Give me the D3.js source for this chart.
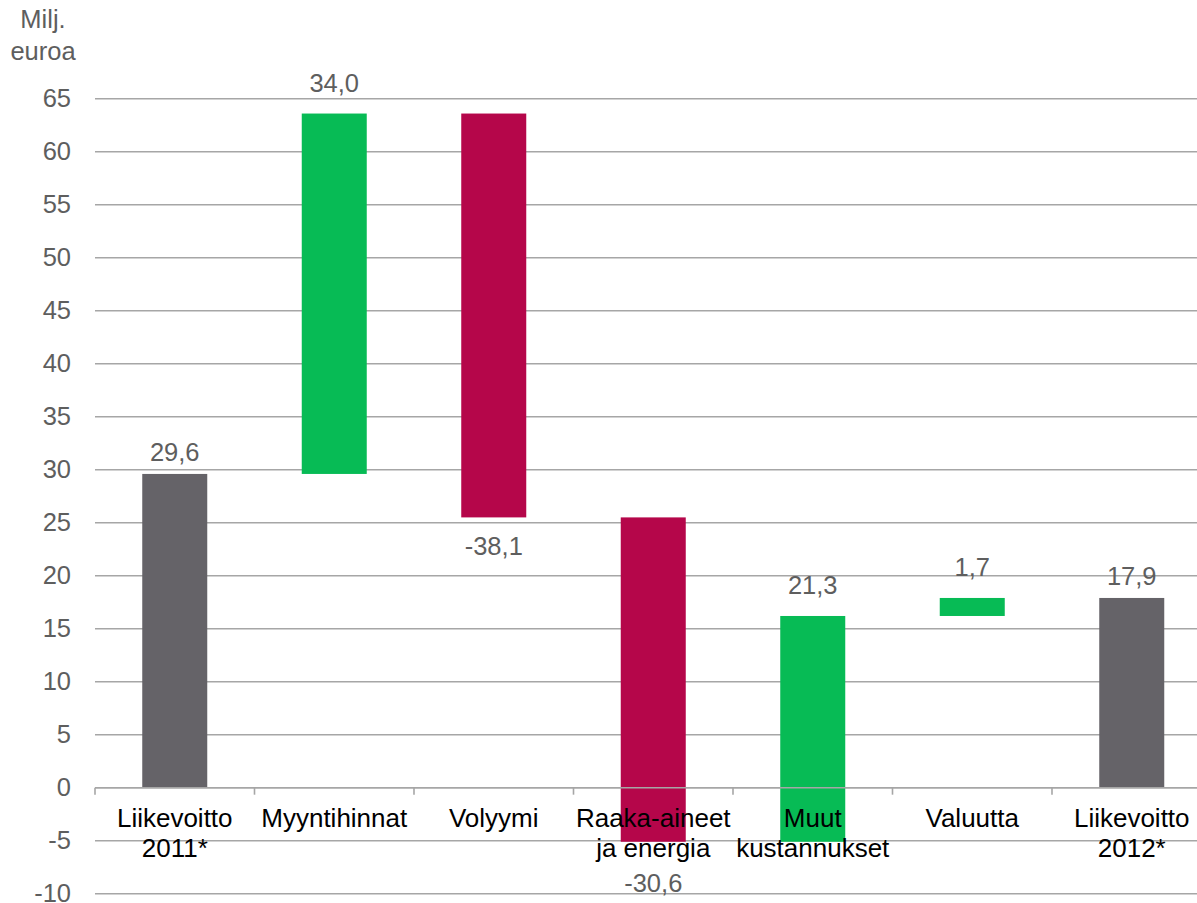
<!DOCTYPE html>
<html>
<head>
<meta charset="utf-8">
<script src="https://cdn.jsdelivr.net/npm/d3@7"></script>
<style>
  html, body { margin: 0; padding: 0; background: #fff; }
  svg { display: block; font-family: "Liberation Sans", Arial, sans-serif; }
</style>
</head>
<body>
<svg id="chart" width="1197" height="903"></svg>
<script>
// Operating profit bridge 2011 -> 2012, million euros
const categories = [
  ["Liikevoitto", "2011*"],
  ["Myyntihinnat"],
  ["Volyymi"],
  ["Raaka-aineet", "ja energia"],
  ["Muut", "kustannukset"],
  ["Valuutta"],
  ["Liikevoitto", "2012*"]
];
const changes = [29.6, 34.0, -38.1, -30.6, 21.3, 1.7, 17.9];
const kinds = ["total", "delta", "delta", "delta", "delta", "delta", "total"];
const yTicks = [-10, -5, 0, 5, 10, 15, 20, 25, 30, 35, 40, 45, 50, 55, 60, 65];

const colors = { total: "#656368", up: "#07BB55", down: "#B5064A" };
// Finnish style: decimal comma, plain hyphen for negatives
const fmt = v => d3.format(".1f")(v).replace(".", ",").replace("\u2212", "-");

// running start/end of each bar
let running = 0;
const bars = changes.map((v, i) => {
  let start, end;
  if (kinds[i] === "total") { start = 0; end = v; running = v; }
  else { start = running; end = running + v; running = end; }
  return { i, v, start, end, kind: kinds[i], label: categories[i] };
});

const svg = d3.select("#chart");
const left = 95, right = 1211.5;

const x = d3.scaleBand()
  .domain(d3.range(categories.length))
  .range([left, right])
  .paddingInner(0.5925)
  .paddingOuter(0.29625);

const y = d3.scaleLinear().domain([-10, 65]).range([893.7, 98.7]);

// gridlines
svg.append("g").selectAll("line").data(yTicks).join("line")
  .attr("x1", left).attr("x2", right)
  .attr("y1", d => y(d)).attr("y2", d => y(d))
  .attr("stroke", "#a6a6a6").attr("stroke-width", 1.6);

// y tick labels
svg.append("g").selectAll("text").data(yTicks).join("text")
  .attr("x", 71).attr("y", d => y(d)).attr("dy", "0.34em")
  .attr("text-anchor", "end").attr("font-size", 25.5).attr("fill", "#5e5e5e")
  .text(d => String(d));

// axis title
const title = svg.append("text").attr("text-anchor", "middle")
  .attr("font-size", 25.5).attr("fill", "#5e5e5e");
title.append("tspan").attr("x", 43).attr("y", 28).text("Milj.");
title.append("tspan").attr("x", 43).attr("y", 60).text("euroa");

// bars
svg.append("g").selectAll("rect").data(bars).join("rect")
  .attr("x", d => x(d.i))
  .attr("width", x.bandwidth())
  .attr("y", d => y(Math.max(d.start, d.end)))
  .attr("height", d => Math.abs(y(d.start) - y(d.end)))
  .attr("fill", d => d.kind === "total" ? colors.total : (d.v >= 0 ? colors.up : colors.down));

// zero axis and category ticks
const y0 = y(0);
svg.append("line").attr("x1", left).attr("x2", right)
  .attr("y1", y0).attr("y2", y0)
  .attr("stroke", "#a6a6a6").attr("stroke-width", 1.6);
const step = x.step();
svg.append("g").selectAll("line").data(d3.range(categories.length + 1)).join("line")
  .attr("x1", d => left + d * step).attr("x2", d => left + d * step)
  .attr("y1", y0).attr("y2", y0 + 7)
  .attr("stroke", "#a6a6a6").attr("stroke-width", 1.6);

// category labels
const catLine1 = y0 + 39, catLine2 = y0 + 69;
const cat = svg.append("g").selectAll("text").data(bars).join("text")
  .attr("text-anchor", "middle").attr("font-size", 26).attr("fill", "#000");
cat.each(function (d) {
  const t = d3.select(this);
  d.label.forEach((line, k) => {
    t.append("tspan").attr("x", x(d.i) + x.bandwidth() / 2)
      .attr("y", k === 0 ? catLine1 : catLine2).text(line);
  });
});

// value labels: above the top for increases, below the bottom for decreases
svg.append("g").selectAll("text").data(bars).join("text")
  .attr("text-anchor", "middle").attr("font-size", 25.5).attr("fill", "#5e5e5e")
  .attr("x", d => x(d.i) + x.bandwidth() / 2)
  .attr("y", d => {
    if (d.v >= 0) return y(Math.max(d.start, d.end)) - (d.kind === "total" ? 13 : 22);
    const below = y(Math.min(d.start, d.end)) + 38;
    // keep clear of the two-line category labels
    return below > y0 - 20 && below < catLine2 + 30 ? catLine2 + 35 : below;
  })
  .text(d => fmt(d.v));
</script>
</body>
</html>
